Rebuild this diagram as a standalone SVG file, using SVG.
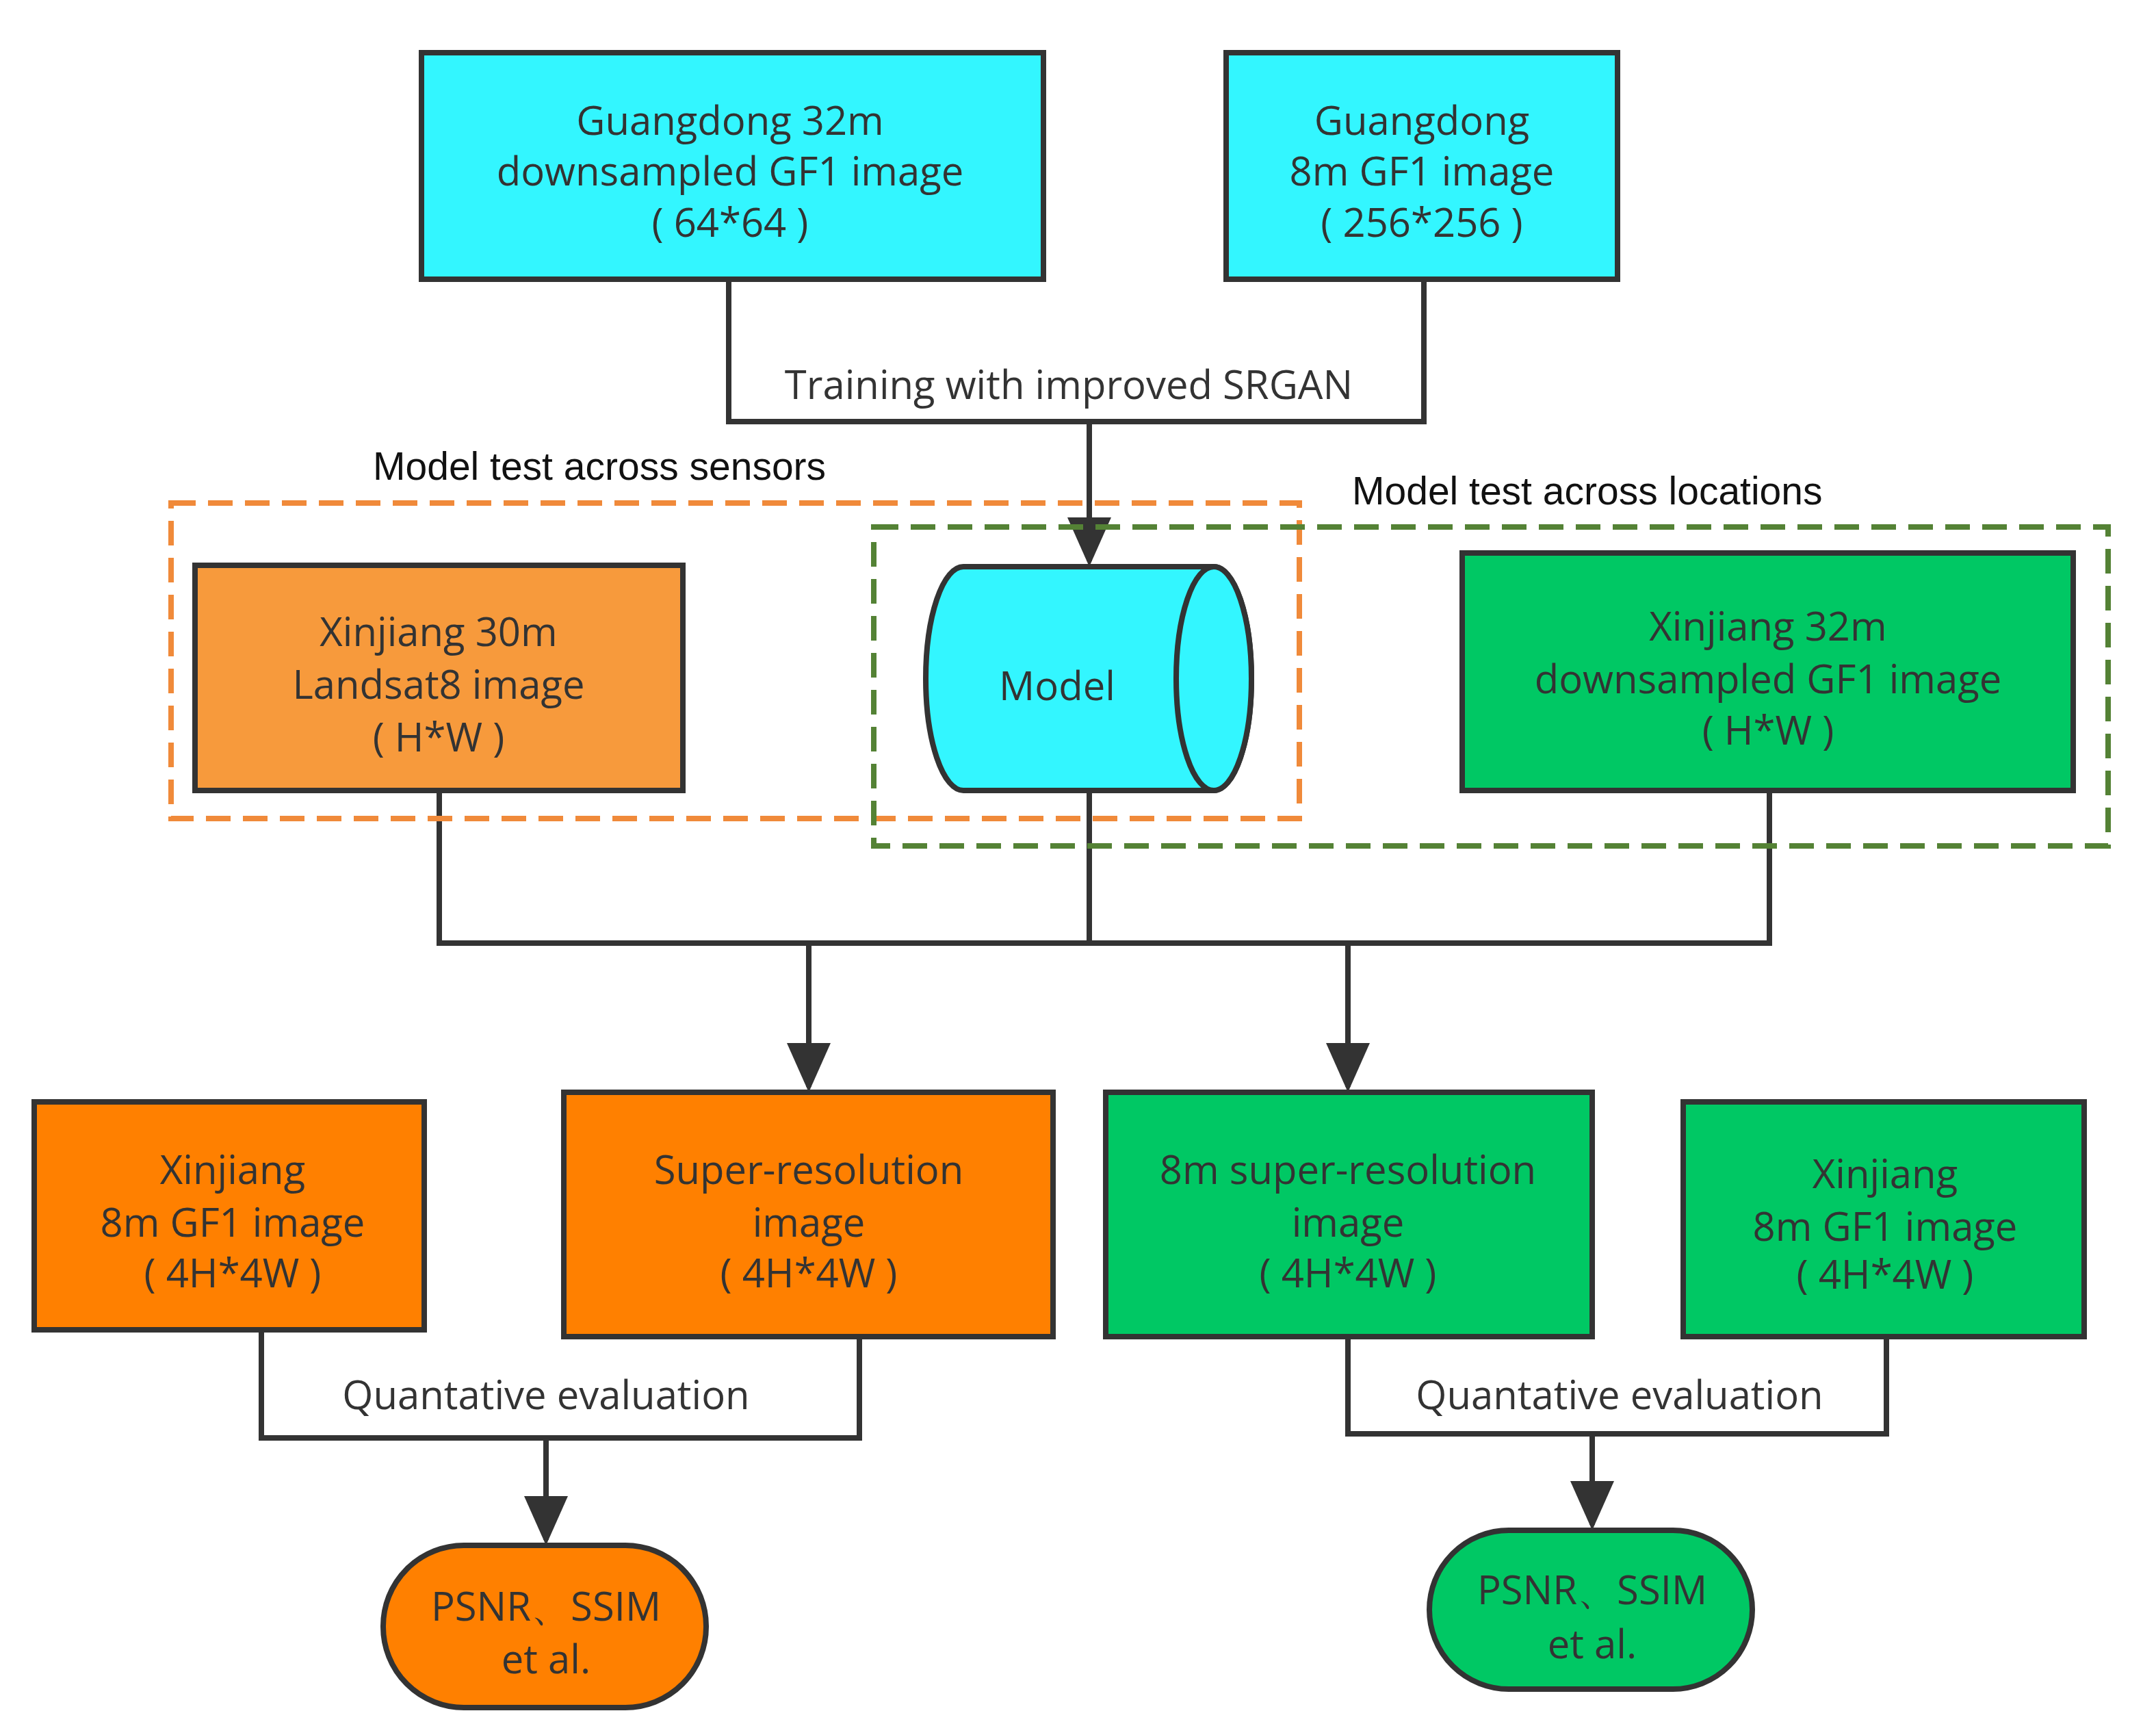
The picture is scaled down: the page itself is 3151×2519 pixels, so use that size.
<svg xmlns="http://www.w3.org/2000/svg" width="3151" height="2519" viewBox="0 0 3151 2519">
<style>
.b{stroke:#333;stroke-width:8}
.t{font-family:"Open Sans","Liberation Sans",sans-serif;font-size:58px;fill:#333;text-anchor:middle;dominant-baseline:central}
.l{font-family:"Liberation Sans",sans-serif;font-size:57px;fill:#111;dominant-baseline:central}
.c{fill:none;stroke:#333;stroke-width:8}
.cy{fill:#33F6FF}.o1{fill:#F79A3C}.o2{fill:#FF8000}.g{fill:#00C864}
</style>
<defs><marker id="a" markerWidth="10" markerHeight="10" refX="8" refY="5" orient="auto" markerUnits="strokeWidth"><path d="M0,1 L9,5 L0,9 Z" fill="#333"/></marker></defs>
<rect width="3151" height="2519" fill="#fff"/>
<g id="connectors">
<path class="c" d="M1065,408 V616 H2081 V408"/>
<path class="c" d="M1592,616 V820" marker-end="url(#a)"/>
<path class="c" d="M642,1155 V1378 H2586 V1155 M1592,1155 V1378"/>
<path class="c" d="M1182,1378 V1588" marker-end="url(#a)"/>
<path class="c" d="M1970,1378 V1588" marker-end="url(#a)"/>
<path class="c" d="M382,1943 V2101 H1256 V1953"/>
<path class="c" d="M798,2101 V2250" marker-end="url(#a)"/>
<path class="c" d="M1970,1953 V2095 H2757 V1953"/>
<path class="c" d="M2327,2095 V2228" marker-end="url(#a)"/>
</g>
<text class="t" x="1562" y="560">Training with improved SRGAN</text>
<text class="t" x="798" y="2036">Quantative evaluation</text>
<text class="t" x="2367" y="2036">Quantative evaluation</text>
<g id="gd32"><rect class="b cy" x="616" y="77" width="909" height="331"/>
<text class="t" x="1067" y="174">Guangdong 32m</text><text class="t" x="1067" y="248">downsampled GF1 image</text><text class="t" x="1067" y="323">( 64*64 )</text></g>
<g id="gd8"><rect class="b cy" x="1792" y="77" width="572" height="331"/>
<text class="t" x="2078" y="174">Guangdong</text><text class="t" x="2078" y="248">8m GF1 image</text><text class="t" x="2078" y="323">( 256*256 )</text></g>
<g id="xj30"><rect class="b o1" x="285" y="826" width="713" height="329"/>
<text class="t" x="641" y="921">Xinjiang 30m</text><text class="t" x="641" y="998">Landsat8 image</text><text class="t" x="641" y="1075">( H*W )</text></g>
<g id="model"><path class="b cy" d="M1408,828 L1774,828 A55,163.5 0 0 1 1774,1155 L1408,1155 A55,163.5 0 0 1 1408,828 Z"/>
<ellipse class="b cy" cx="1774" cy="991.5" rx="55" ry="163.5"/>
<text class="t" x="1545" y="1000">Model</text></g>
<g id="xj32"><rect class="b g" x="2137" y="808" width="893" height="347"/>
<text class="t" x="2584" y="913">Xinjiang 32m</text><text class="t" x="2584" y="990">downsampled GF1 image</text><text class="t" x="2584" y="1065">( H*W )</text></g>
<g id="sensors"><rect x="250" y="735" width="1649" height="461" fill="none" stroke="#F08A3A" stroke-width="8" stroke-dasharray="36,18"/>
<text class="l" x="545" y="681">Model test across sensors</text></g>
<g id="locations"><rect x="1277" y="770" width="1804" height="466" fill="none" stroke="#548235" stroke-width="8" stroke-dasharray="36,18"/>
<text class="l" x="1976" y="717">Model test across locations</text></g>
<g id="xj8o"><rect class="b o2" x="50" y="1610" width="570" height="333"/>
<text class="t" x="340" y="1707">Xinjiang</text><text class="t" x="340" y="1784">8m GF1 image</text><text class="t" x="340" y="1858">( 4H*4W )</text></g>
<g id="sro"><rect class="b o2" x="824" y="1596" width="715" height="357"/>
<text class="t" x="1182" y="1707">Super-resolution</text><text class="t" x="1182" y="1784">image</text><text class="t" x="1182" y="1858">( 4H*4W )</text></g>
<g id="srg"><rect class="b g" x="1616" y="1596" width="711" height="357"/>
<text class="t" x="1970" y="1707">8m super-resolution</text><text class="t" x="1970" y="1784">image</text><text class="t" x="1970" y="1858">( 4H*4W )</text></g>
<g id="xj8g"><rect class="b g" x="2460" y="1610" width="586" height="343"/>
<text class="t" x="2755" y="1713">Xinjiang</text><text class="t" x="2755" y="1790">8m GF1 image</text><text class="t" x="2755" y="1860">( 4H*4W )</text></g>
<g id="psnro"><rect class="b o2" x="560" y="2258" width="472" height="237" rx="118" ry="118"/>
<text class="t" x="798" y="2345">PSNR、SSIM</text><text class="t" x="798" y="2422">et al.</text></g>
<g id="psnrg"><rect class="b g" x="2089" y="2236" width="472" height="232" rx="116" ry="116"/>
<text class="t" x="2327" y="2321">PSNR、SSIM</text><text class="t" x="2327" y="2400">et al.</text></g>
</svg>
